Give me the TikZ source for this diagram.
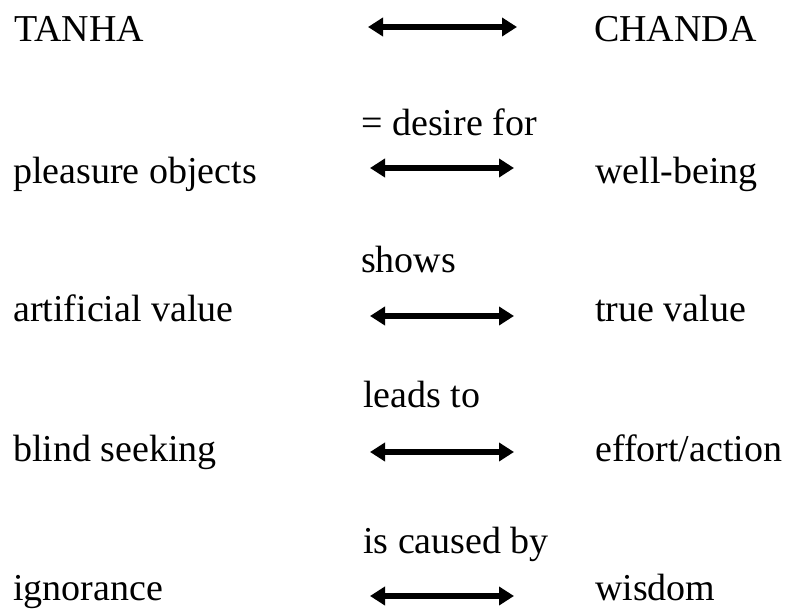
\documentclass[tikz,border=0pt]{standalone}
\usepackage{fontspec}
\setmainfont{Liberation Serif}
\usetikzlibrary{arrows.meta}
\begin{document}
\begin{tikzpicture}[x=1pt, y=-1pt,
	word/.style = {anchor=base west, inner sep=0pt, font=\fontsize{38}{44}\selectfont},
	link/.style = {{Triangle[length=15pt,width=18pt]}-{Triangle[length=15pt,width=18pt]}, line width=5.5pt}]
	\useasboundingbox (0,0) rectangle (790,612);
	% left and right columns
	\node[word] (t1) at (14,42) {TANHA};
	\node[word] (c1) at (594,42) {CHANDA};
	\node[word] (t2) at (13,184) {pleasure objects};
	\node[word] (c2) at (595,184) {well-being};
	\node[word] (t3) at (13,322) {artificial value};
	\node[word] (c3) at (595,322) {true value};
	\node[word] (t4) at (13,461) {blind seeking};
	\node[word] (c4) at (595,461) {effort/action};
	\node[word] (t5) at (13,600) {ignorance};
	\node[word] (c5) at (595,600) {wisdom};
	% middle labels
	\node[word] (r2) at (361,136) {= desire for};
	\node[word] (r3) at (361,273) {shows};
	\node[word] (r4) at (363,407) {leads to};
	\node[word] (r5) at (363,553) {is caused by};
	% arrow ends
	\coordinate (a1) at (368,27);  \coordinate (b1) at (517,27);
	\coordinate (a2) at (370,168); \coordinate (b2) at (514,168);
	\coordinate (a3) at (370,316); \coordinate (b3) at (514,316);
	\coordinate (a4) at (370,452); \coordinate (b4) at (514,452);
	\coordinate (a5) at (370,596); \coordinate (b5) at (514,596);
	\draw[link] (a1) -- (b1);
	\draw[link] (a2) -- (b2);
	\draw[link] (a3) -- (b3);
	\draw[link] (a4) -- (b4);
	\draw[link] (a5) -- (b5);
\end{tikzpicture}
\end{document}
